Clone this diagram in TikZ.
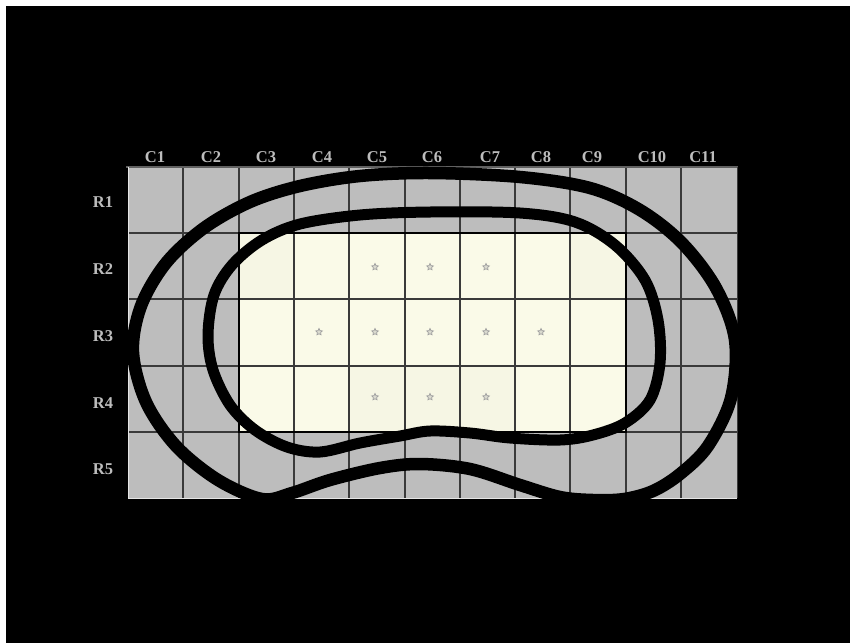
\documentclass[tikz,border=0pt]{standalone}
\usepackage{fontspec}
\setmainfont{Liberation Serif}
\usetikzlibrary{shapes.geometric}
\definecolor{cellgray}{HTML}{BDBDBD}
\definecolor{cellivory}{HTML}{FAFAE8}
\definecolor{cellivoryd}{HTML}{F6F6E4}
\definecolor{gridline}{HTML}{3A3A3A}
\definecolor{labelgray}{HTML}{BDBDBD}
\definecolor{stargray}{HTML}{A0A0A0}
\tikzset{
  gridstroke/.style={draw=gridline, line width=1.1pt},
  innerframe/.style={draw=black, line width=2.4pt},
  collabel/.style={text=labelgray, font=\bfseries\fontsize{16.5}{16.5}\selectfont, inner sep=0pt, anchor=base},
  rowlabel/.style={text=labelgray, font=\bfseries\fontsize{16.5}{16.5}\selectfont, inner sep=0pt},
  starmark/.style={star, star points=5, star point ratio=2.0, minimum size=7pt, inner sep=0pt, draw=stargray, line width=0.7pt, fill=stargray!35!cellivory},
  outerloop/.style={draw=black, line width=12.5pt, line join=round},
  innerloop/.style={draw=black, line width=11pt, line join=round},
}
\begin{document}
\begin{tikzpicture}[x=1pt, y=-1pt]
\useasboundingbox (0,0) rectangle (850,643);
\fill[white] (0,0) rectangle (850,643);
\fill[black] (6,6) rectangle (850,643);
% grid background
\fill[cellgray] (128,167) rectangle (737,498);
\fill[cellivory] (239,233) rectangle (626,432);
\fill[cellivoryd] (239,233) rectangle (294,299);
\fill[cellivoryd] (570,233) rectangle (626,299);
\fill[cellivoryd] (349,366) rectangle (515,432);
% grid lines
\foreach \x in {183,239,294,349,405,460,515,570,626,681}
  \draw[gridstroke] (\x,167) -- (\x,498);
\foreach \y in {233,299,366,432}
  \draw[gridstroke] (128,\y) -- (737,\y);
\draw[draw=gridline!80!white, line width=2.5pt] (126,167) -- (738,167);
\draw[draw=white!80!gray, line width=1pt] (128,167) -- (128,498) -- (737,498);
\draw[draw=gridline, line width=1pt] (737,167) -- (737,498);
\draw[innerframe] (239,233) rectangle (626,432);
% column labels
\node[collabel] (c1) at (155,162) {C1};
\node[collabel] (c2) at (211,162) {C2};
\node[collabel] (c3) at (266,162) {C3};
\node[collabel] (c4) at (322,162) {C4};
\node[collabel] (c5) at (377,162) {C5};
\node[collabel] (c6) at (432,162) {C6};
\node[collabel] (c7) at (490,162) {C7};
\node[collabel] (c8) at (541,162) {C8};
\node[collabel] (c9) at (592,162) {C9};
\node[collabel] (c10) at (652,162) {C10};
\node[collabel] (c11) at (703,162) {C11};
% row labels
\node[rowlabel] (r1) at (103,202) {R1};
\node[rowlabel] (r2) at (103,269) {R2};
\node[rowlabel] (r3) at (103,336) {R3};
\node[rowlabel] (r4) at (103,403) {R4};
\node[rowlabel] (r5) at (103,469) {R5};
% stars
\node[starmark] (s25) at (375,267) {};
\node[starmark] (s26) at (430,267) {};
\node[starmark] (s27) at (486,267) {};
\node[starmark] (s34) at (319,332) {};
\node[starmark] (s35) at (375,332) {};
\node[starmark] (s36) at (430,332) {};
\node[starmark] (s37) at (486,332) {};
\node[starmark] (s38) at (541,332) {};
\node[starmark] (s45) at (375,397) {};
\node[starmark] (s46) at (430,397) {};
\node[starmark] (s47) at (486,397) {};
% loops
\draw[outerloop] plot[smooth cycle, tension=0.55] coordinates {
  (430,173) (520,177) (590,188) (640,210) (682,243) (716,288) (735,340)
  (731,398) (708,446) (680,474) (653,491) (624,499) (593,500) (560,497)
  (520,485) (470,469) (420,464) (380,468) (330,480) (292,493) (262,499)
  (218,480) (176,446) (146,402) (133,352) (141,306) (166,263) (204,228)
  (250,202) (300,186) (360,176)};
\draw[innerloop] plot[smooth cycle, tension=0.55] coordinates {
  (430,212) (520,213) (575,222) (615,245) (645,280) (658,320) (660,363)
  (650,400) (625,423) (593,435) (560,440) (510,438) (470,433) (430,431)
  (400,436) (360,443) (320,452) (287,447) (255,430) (230,405) (213,370)
  (208,335) (214,295) (232,265) (262,240) (300,224) (360,215)};
\end{tikzpicture}
\end{document}
